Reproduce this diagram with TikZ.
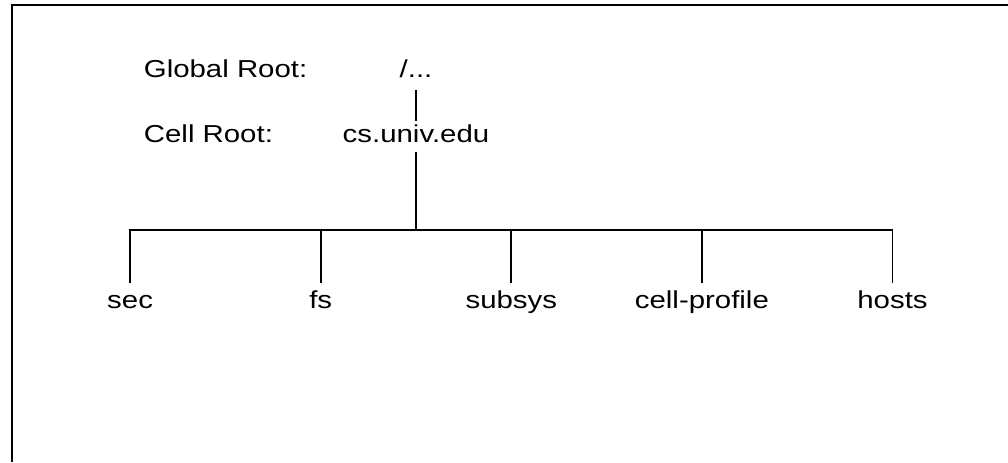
\documentclass[tikz,border=0pt]{standalone}
\usepackage{fontspec}
\setmainfont{Liberation Sans}[FakeStretch=1.2]

\begin{document}
\begin{tikzpicture}[x=0.5pt,y=0.5pt,line width=0.9pt,level 1/.style={level distance=32.5pt,edge from parent path={([yshift=-1.5pt]\tikzparentnode.south) -- ([yshift=-2pt]\tikzchildnode.north)}},level 2/.style={level distance=83pt,sibling distance=95.3pt,edge from parent path={(\tikzparentnode.south) -- ++(0,-78) -| (\tikzchildnode.north)}},every node/.style = {font=\fontsize{12.25}{15}\selectfont, inner sep=3pt, text height=9pt, text depth=1.5pt}]
\useasboundingbox (0,0) rectangle (1008,-462);
\draw[line width=1.4pt] (12,-462) -- (12,-5) -- (1008,-5);
\node(root) at (416,-69.5) {/...}
child { node(cell) {cs.univ.edu}
  child[missing] {}
  child { node(sec) {sec} }
  child { node(fs) {fs} }
  child { node(subsys) {subsys} }
  child { node(profile) {cell-profile} }
  child { node(hosts) {hosts} }
};
\node[anchor=west] (globroot) at (137,-69.5) {Global Root:};
\node[anchor=west] (cellroot) at (137,-134.5) {Cell Root:};
\end{tikzpicture}
\end{document}
